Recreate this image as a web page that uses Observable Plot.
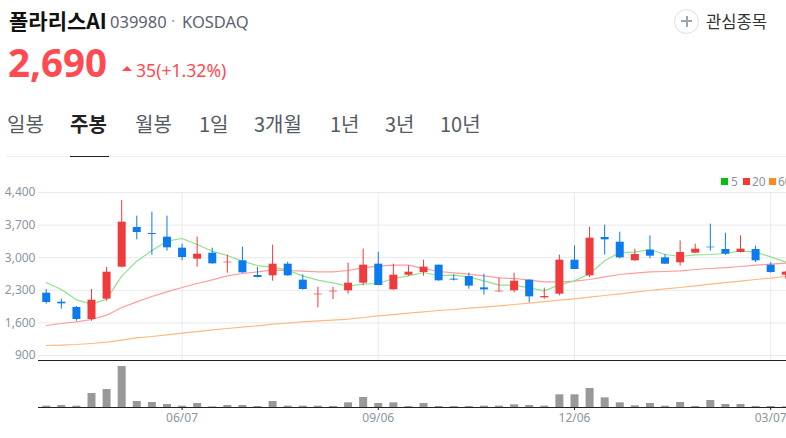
<!DOCTYPE html>
<html lang="ko">
<head>
<meta charset="utf-8">
<script src="https://cdn.jsdelivr.net/npm/d3@7"></script>
<script src="https://cdn.jsdelivr.net/npm/@observablehq/plot@0.6"></script>
<style>
html,body{margin:0;padding:0;background:#fff;width:786px;height:438px;overflow:hidden}
body{position:relative;font-family:"Noto Sans CJK KR","Noto Sans",sans-serif}
.t{position:absolute;white-space:nowrap;line-height:1}
.tab{position:absolute;top:113px;font-size:20px;line-height:22px;color:#555b63;white-space:nowrap}
.sw{position:absolute;top:178px;width:7px;height:7px}
.lg{position:absolute;top:175.5px;font:12px/12px "Noto Sans",sans-serif;color:#8b95a1}
#price,#volume{position:absolute;left:0}
#price{top:182px}
#volume{top:362px}
svg{display:block}
</style>
</head>
<body>
<div class="t" style="left:9px;top:10px;font-size:21px;font-weight:700;color:#111">폴라리스AI</div>
<div class="t" style="left:110px;top:14px;font-size:16.5px;color:#5b6370;font-family:'Noto Sans',sans-serif">039980</div>
<div class="t" style="left:171px;top:13px;font-size:16px;color:#a0a6ae;font-family:'Noto Sans',sans-serif">·</div>
<div class="t" style="left:182px;top:14px;font-size:16.5px;color:#5b6370;font-family:'Noto Sans',sans-serif">KOSDAQ</div>
<div class="t" style="left:8px;top:43px;font-size:38.5px;font-weight:700;color:#ff4a52;font-family:'Noto Sans',sans-serif">2,690</div>
<div class="t" style="left:122px;top:66px;width:0;height:0;border-left:5px solid transparent;border-right:5px solid transparent;border-bottom:5px solid #ff4a52"></div>
<div class="t" style="left:136px;top:62px;font-size:17.6px;color:#ff4a52;font-family:'Noto Sans',sans-serif">35(+1.32%)</div>
<div class="t" style="left:674px;top:9px;width:23px;height:23px;border:1px solid #dcdfe6;border-radius:50%"></div>
<div class="t" style="left:681px;top:20px;width:11px;height:2px;background:#9aa3ae"></div>
<div class="t" style="left:685.5px;top:15.5px;width:2px;height:11px;background:#9aa3ae"></div>
<div class="t" style="left:706px;top:13px;font-size:16.6px;color:#333">관심종목</div>
<div class="tab" style="left:7px">일봉</div>
<div class="tab" style="left:70px;font-weight:700;color:#222">주봉</div>
<div class="tab" style="left:135px">월봉</div>
<div class="tab" style="left:199px">1일</div>
<div class="tab" style="left:254px">3개월</div>
<div class="tab" style="left:330px">1년</div>
<div class="tab" style="left:385px">3년</div>
<div class="tab" style="left:440px">10년</div>
<div class="t" style="left:6px;top:156px;width:780px;height:1px;background:#f0f0f2"></div>
<div class="t" style="left:70px;top:156px;width:39px;height:1px;background:#222"></div>
<div class="sw" style="left:721px;background:#00c20e"></div><div class="lg" style="left:731px">5</div>
<div class="sw" style="left:743px;background:#ff3636"></div><div class="lg" style="left:752px">20</div>
<div class="sw" style="left:769px;background:#ff8a1e"></div><div class="lg" style="left:778px">60</div>
<div id="price"></div>
<div id="volume"></div>
<script>
const dates = ["2024-04-05","2024-04-12","2024-04-19","2024-04-26","2024-05-03","2024-05-10","2024-05-17","2024-05-24","2024-05-31","2024-06-07","2024-06-14","2024-06-21","2024-06-28","2024-07-05","2024-07-12","2024-07-19","2024-07-26","2024-08-02","2024-08-09","2024-08-16","2024-08-23","2024-08-30","2024-09-06","2024-09-13","2024-09-20","2024-09-27","2024-10-04","2024-10-11","2024-10-18","2024-10-25","2024-11-01","2024-11-08","2024-11-15","2024-11-22","2024-11-29","2024-12-06","2024-12-13","2024-12-20","2024-12-27","2025-01-03","2025-01-10","2025-01-17","2025-01-24","2025-01-31","2025-02-07","2025-02-14","2025-02-21","2025-02-28","2025-03-07","2025-03-14"];
const highs = [2317,2110,1952,2317,2789,4228,3892,3978,3892,3290,3441,3205,3054,3226,2789,3269,2904,2632,2367,2360,2883,3183,3119,2861,2825,2947,2840,2632,2668,2646,2560,2668,2518,2346,3054,3255,3655,3698,3548,3183,3469,3069,3362,3290,3720,3527,3469,3248,2890,2711];
const lows = [2002,1895,1637,1637,2067,2782,3384,3054,3140,2933,2797,2861,2668,2668,2568,2496,2603,2303,1923,2102,2217,2396,2396,2303,2596,2603,2496,2503,2324,2195,2260,2246,2031,2110,2181,2747,2575,3054,2976,2925,2976,2854,2818,3090,3140,3054,3104,2897,2668,2539];
const opens = [2238,2045,1931,1673,2110,2797,3648,3520,3441,3205,2968,3097,2890,2933,2618,2611,2861,2518,2203,2267,2289,2453,2861,2310,2625,2682,2840,2539,2596,2353,2267,2289,2518,2138,2217,2947,2611,3434,3333,2933,3162,2997,2890,3097,3226,3176,3112,3176,2840,2625];
const closes = [2038,2009,1673,2088,2689,3763,3541,3498,3212,3004,3076,2868,2904,2675,2575,2861,2611,2317,2217,2281,2453,2840,2403,2625,2689,2797,2503,2518,2389,2310,2281,2496,2160,2167,2947,2747,3419,3384,2997,3069,3033,2861,3112,3183,3212,3076,3183,2933,2682,2690];
const ma5 = [2467,2317,2095,2002,2110,2603,2926,3155,3355,3412,3283,3140,3047,2926,2832,2797,2732,2611,2518,2460,2389,2432,2446,2553,2611,2682,2618,2625,2589,2503,2410,2410,2353,2289,2417,2503,2654,2933,3112,3119,3176,3069,3026,3061,3069,3090,3147,3119,3019,2904];
const ma20 = [1544,1587,1623,1673,1766,1931,2052,2167,2267,2360,2446,2525,2611,2661,2696,2732,2725,2711,2696,2696,2725,2782,2818,2840,2840,2768,2704,2675,2646,2611,2568,2553,2518,2482,2482,2496,2532,2589,2639,2668,2696,2704,2718,2747,2768,2789,2811,2840,2861,2883];
const ma60 = [1115,1122,1136,1158,1186,1229,1279,1308,1344,1380,1415,1451,1480,1508,1537,1573,1594,1623,1644,1659,1680,1716,1752,1780,1809,1838,1866,1888,1916,1938,1966,1995,2024,2059,2088,2117,2152,2188,2224,2260,2296,2331,2360,2396,2432,2467,2496,2532,2561,2596];
const volumes = [40,60,40,420,540,1230,180,150,90,40,120,20,60,60,30,180,40,40,40,30,140,300,120,140,30,120,30,30,30,40,40,80,60,40,380,380,570,290,140,50,120,40,150,30,210,90,90,30,30,20];
const priceTicks = [900,1600,2300,3000,3700,4400];
const dateTickLabels = ["2024-06-07","2024-09-06","2024-12-06","2025-03-07"];
const xDomainDates = ["2024-04-01T10:00Z","2025-03-14T08:00Z"];
const priceFloor = 793;

const RED = "#f03a3c", BLUE = "#0b7bee";
const xs = dates.map(d => new Date(d));
const dateTicks = dateTickLabels.map(d => new Date(d));
const xDomain = xDomainDates.map(d => new Date(d));
const rows = xs.map((x, i) => ({x, high: highs[i], low: lows[i], open: opens[i], close: closes[i],
  ma5: ma5[i], ma20: ma20[i], ma60: ma60[i], volume: volumes[i],
  color: closes[i] >= opens[i] ? RED : BLUE}));
const font = {fontFamily: '"Noto Sans",sans-serif', fontSize: "12px", background: "transparent"};
const GRID = "#e9eaee", LABEL = "#8b95a1";

document.getElementById("price").append(Plot.plot({
  width: 786, height: 180, marginLeft: 38, marginRight: 0, marginTop: 10, marginBottom: 2,
  style: font,
  x: {type: "utc", domain: xDomain, axis: null},
  y: {domain: [priceFloor, 4400], axis: null},
  marks: [
    Plot.gridY({ticks: priceTicks, stroke: GRID, strokeOpacity: 1}),
    Plot.gridX({ticks: dateTicks, stroke: GRID, strokeOpacity: 1}),
    Plot.axisY({ticks: priceTicks, tickSize: 0, tickPadding: 3, tickFormat: d3.format(","), label: null, fill: LABEL}),
    Plot.ruleY([priceFloor], {stroke: "#222", strokeWidth: 1}),
    Plot.line(rows, {x: "x", y: "ma60", stroke: "#fcbb82", strokeWidth: 1.2}),
    Plot.line(rows, {x: "x", y: "ma20", stroke: "#ff9c9e", strokeWidth: 1.2}),
    Plot.line(rows, {x: "x", y: "ma5", stroke: "#8fe28f", strokeWidth: 1.2}),
    Plot.ruleX(rows, {x: "x", y1: "low", y2: "high", stroke: "color", strokeWidth: 1}),
    Plot.ruleX(rows, {x: "x", y1: "open", y2: "close", stroke: "color", strokeWidth: 8})
  ]
}));

document.getElementById("volume").append(Plot.plot({
  width: 786, height: 72, marginLeft: 38, marginRight: 0, marginTop: 4, marginBottom: 27,
  style: font,
  x: {type: "utc", domain: xDomain, axis: null},
  y: {domain: [0, 1230], axis: null},
  marks: [
    Plot.ruleX(rows, {x: "x", y1: 0, y2: "volume", stroke: "#999999", strokeWidth: 8}),
    Plot.ruleY([0], {stroke: "#222", strokeWidth: 1}),
    Plot.axisX({ticks: dateTicks, tickFormat: d3.utcFormat("%m/%d"), tickSize: 3, tickPadding: 3, label: null, fill: LABEL, stroke: "#222"})
  ]
}));
</script>
</body>
</html>
